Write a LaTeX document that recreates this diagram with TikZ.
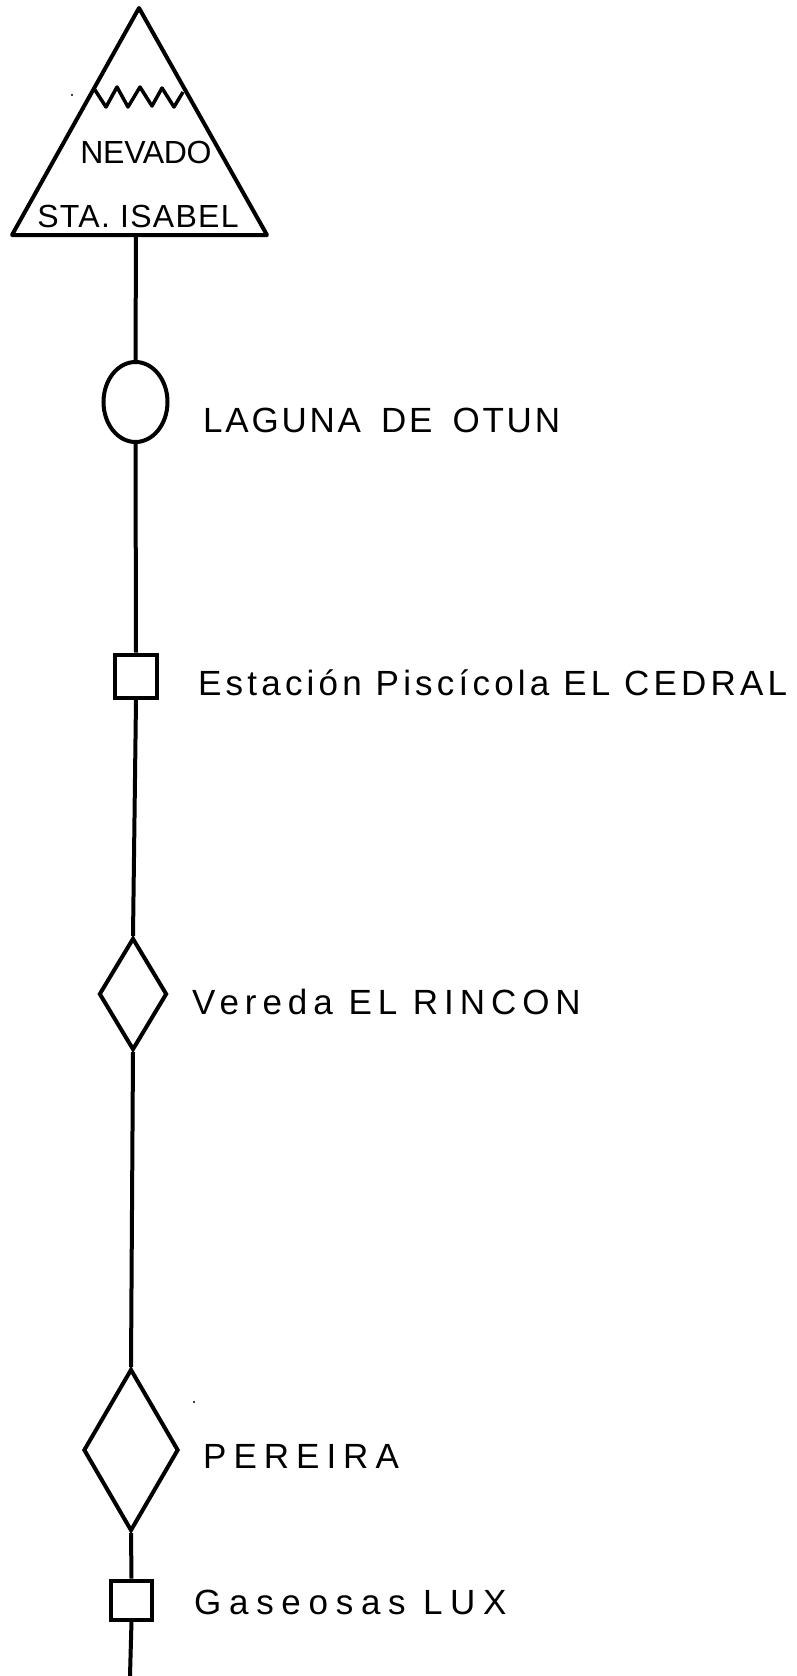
\documentclass[tikz,border=0pt]{standalone}
\usepackage{fontspec}
\setmainfont{Liberation Sans}
\usetikzlibrary{shapes.geometric}
\tikzset{
  place/.style={draw, line width=4pt, inner sep=0pt},
  link/.style={line width=4pt},
  lettering/.style={anchor=west, inner sep=0pt, font=\fontsize{35}{38}\selectfont},
  peak/.style={inner sep=0pt, font=\fontsize{32}{36}\selectfont}
}
\begin{document}
\begin{tikzpicture}[x=1pt, y=-1pt]
\useasboundingbox (0,0) rectangle (796,1676);

% nevado
\coordinate (apex) at (139,8);
\coordinate (baseL) at (12,235);
\coordinate (baseR) at (267,235);
\coordinate (foot) at (136,235);
\draw[link, line join=round] (apex)--(baseL)--(baseR)--cycle;
\draw[line width=3.5pt, line join=round] (95,90)--(106,107)--(117,87)--(128,107)--(140,87)--(152,106)--(162,88)--(174,107)--(183,92);
\node[peak] (nevado) at (146,152) {\addfontfeature{LetterSpace=-1}NEVADO};
\node[peak] (isabel) at (138,216) {\addfontfeature{LetterSpace=4}STA. ISABEL};

% stations
\node[place, ellipse, minimum width=64pt, minimum height=80pt] (otun) at (135.5,402) {};
\node[lettering] (otunL) at (203,420) {\addfontfeature{LetterSpace=8}\hbox{LAGUNA\hskip 20pt DE\hskip 20pt OTUN}};
\node[place, minimum width=42pt, minimum height=43pt] (cedral) at (136,676) {};
\node[lettering] (cedralL) at (198,683) {\addfontfeature{LetterSpace=12}Estación Piscícola EL CEDRAL};
\node[place, diamond, aspect=.6, minimum width=68pt, minimum height=112pt] (rincon) at (133,994) {};
\node[lettering] (rinconL) at (192,1002) {\addfontfeature{LetterSpace=17}Vereda EL RINCON};
\node[place, diamond, aspect=.6, minimum width=95pt, minimum height=162pt] (pereira) at (131,1450) {};
\node[lettering] (pereiraL) at (203,1456) {\addfontfeature{LetterSpace=20}PEREIRA};
\node[place, minimum width=41pt, minimum height=39pt] (lux) at (131.5,1600) {};
\node[lettering] (luxL) at (194,1602) {\addfontfeature{LetterSpace=22}Gaseosas LUX};
\coordinate (bottom) at (130,1676);

\draw[link] (foot)--(otun.north);
\draw[link] (otun.south)--(cedral.north);
\draw[link] (cedral.south)--(rincon.north);
\draw[link] (rincon.south)--(pereira.north);
\draw[link] (pereira.south)--(lux.north);
\draw[link] (lux.south)--(bottom);

% specks
\fill (72,95) circle [radius=1.2];
\fill (194,1402) circle [radius=1.2];

\end{tikzpicture}
\end{document}
